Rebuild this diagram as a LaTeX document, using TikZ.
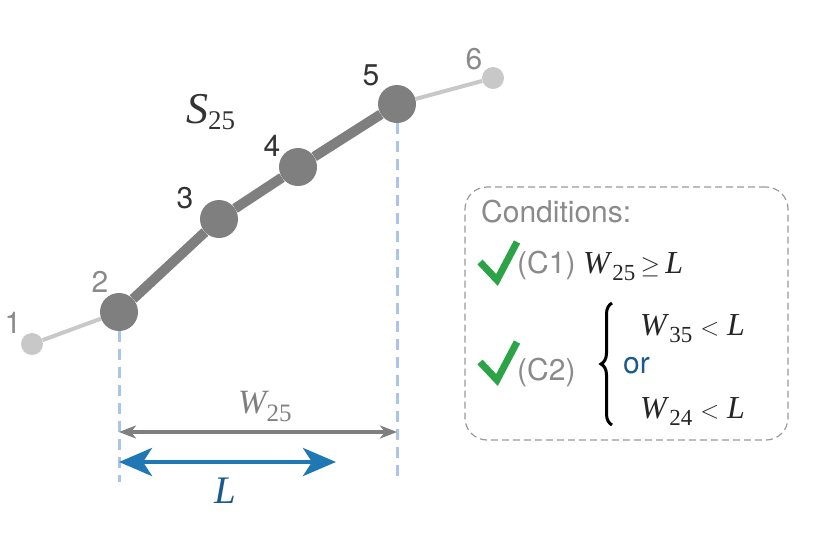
\documentclass[tikz,border=0pt]{standalone}
\usepackage{fontspec}
\setmainfont{TeX Gyre Heros}
\newfontfamily\tms{Liberation Serif}
\usetikzlibrary{arrows.meta,decorations.pathreplacing}
\definecolor{dotdk}{HTML}{7F7F7F}
\definecolor{dotlt}{HTML}{C8C8C8}
\definecolor{txtdk}{HTML}{333333}
\definecolor{txtgr}{HTML}{8A8A8A}
\definecolor{guide}{HTML}{A9C6EA}
\definecolor{larrow}{HTML}{1F77B4}
\definecolor{ltext}{HTML}{1A5B8C}
\definecolor{okgreen}{HTML}{2CA346}
\definecolor{boxgr}{HTML}{9A9A9A}
\newcommand{\sz}[1]{\fontsize{#1}{#1}\selectfont}
\begin{document}
\begin{tikzpicture}[x=1pt,y=-1pt,
  bigdot/.style={circle,fill=dotdk,minimum size=38pt,inner sep=0pt},
  smalldot/.style={circle,fill=dotlt,minimum size=22pt,inner sep=0pt},
  thickseg/.style={draw=dotdk,line width=10pt},
  thinseg/.style={draw=dotlt,line width=4pt},
  numlab/.style={anchor=base,inner sep=0pt,font=\sz{30}},
  guideline/.style={draw=guide,line width=3pt,dash pattern=on 11pt off 7pt},
  warrow/.style={draw=dotdk,line width=3.5pt,{Stealth[length=17pt,width=13pt,inset=5pt]}-{Stealth[length=17pt,width=13pt,inset=5pt]}},
  larrowst/.style={draw=larrow,line width=4.5pt,{Stealth[length=33pt,width=28pt,inset=9pt]}-{Stealth[length=33pt,width=28pt,inset=9pt]}},
  txt/.style={anchor=base west,inner sep=0pt},
  check/.style={draw=okgreen,line width=7pt,line cap=butt,line join=miter}
]
\useasboundingbox (0,0) rectangle (833,542);

% dots
\node[smalldot] (n1) at (32,344) {};
\node[bigdot] (n2) at (119,312) {};
\node[bigdot] (n3) at (219,219) {};
\node[bigdot] (n4) at (298,167) {};
\node[bigdot] (n5) at (397,104) {};
\node[smalldot] (n6) at (493,78) {};

\draw[thinseg] (n1) -- (n2);
\draw[thickseg] (n2) -- (n3);
\draw[thickseg] (n3) -- (n4);
\draw[thickseg] (n4) -- (n5);
\draw[thinseg] (n5) -- (n6);

% labels
\node[numlab,text=txtgr] (l1) at (13,333) {1};
\node[numlab,text=txtgr] (l2) at (100,292) {2};
\node[numlab,text=txtdk] (l3) at (185,208) {3};
\node[numlab,text=txtdk] (l4) at (272,156) {4};
\node[numlab,text=txtdk] (l5) at (371,85) {5};
\node[numlab,text=txtgr] (l6) at (474,69) {6};

\node[txt,text=txtdk] (s25) at (186,123) {\tms\itshape\sz{44}S\raisebox{-6pt}{\upshape\sz{27}25}};

% guides
\coordinate (b2) at (119,482);
\coordinate (b5) at (397,482);
\draw[guideline] (n2.south) -- (b2);
\draw[guideline] (n5.south) -- (b5);

% arrows
\coordinate (wl) at (119,432);
\coordinate (wr) at (397,432);
\draw[warrow] (wl) -- (wr);
\node[txt,text=dotdk] (w25) at (238,413) {\tms\itshape\sz{34}W\raisebox{-8pt}{\upshape\sz{25}25}};
\coordinate (ll) at (119,462);
\coordinate (lr) at (336,462);
\draw[larrowst] (ll) -- (lr);
\node[txt,text=ltext] (lab) at (214,503) {\tms\itshape\sz{39}L};

% box
\node[draw=boxgr,line width=1.2pt,dash pattern=on 7pt off 4pt,rounded corners=22pt,
      minimum width=323pt,minimum height=253pt,inner sep=0pt] (box) at (626.5,313.5) {};
\node[txt,text=txtgr] (cond) at (481,222) {\sz{30}Conditions:};

\coordinate (c1a) at (480,262);
\coordinate (c1b) at (497,280);
\coordinate (c1c) at (517,242);
\draw[check] (c1a) -- (c1b) -- (c1c);
\node[txt,text=txtgr] (c1) at (517,273) {\sz{30}(C1)};
\node[txt,text=black!85] (e1) at (583,273) {\tms\sz{32}\textit{W}\raisebox{-7pt}{\sz{23}25}\,$\geq$\,\textit{L}};

\coordinate (c2a) at (480,362);
\coordinate (c2b) at (497,380);
\coordinate (c2c) at (517,342);
\draw[check] (c2a) -- (c2b) -- (c2c);
\node[txt,text=txtgr] (c2) at (517,380) {\sz{30}(C2)};

\coordinate (bt) at (612,425);
\coordinate (bb) at (612,303);
\draw[line width=3pt,decorate,decoration={brace,amplitude=11pt}] (bt) -- (bb);

\node[txt,text=black!85] (e2) at (640,335) {\tms\sz{32}\textit{W}\raisebox{-7pt}{\sz{23}35}\ $<$\ \textit{L}};
\node[txt,text=ltext] (or) at (623,373) {\sz{30}or};
\node[txt,text=black!85] (e3) at (640,418) {\tms\sz{32}\textit{W}\raisebox{-7pt}{\sz{23}24}\ $<$\ \textit{L}};
\end{tikzpicture}
\end{document}
